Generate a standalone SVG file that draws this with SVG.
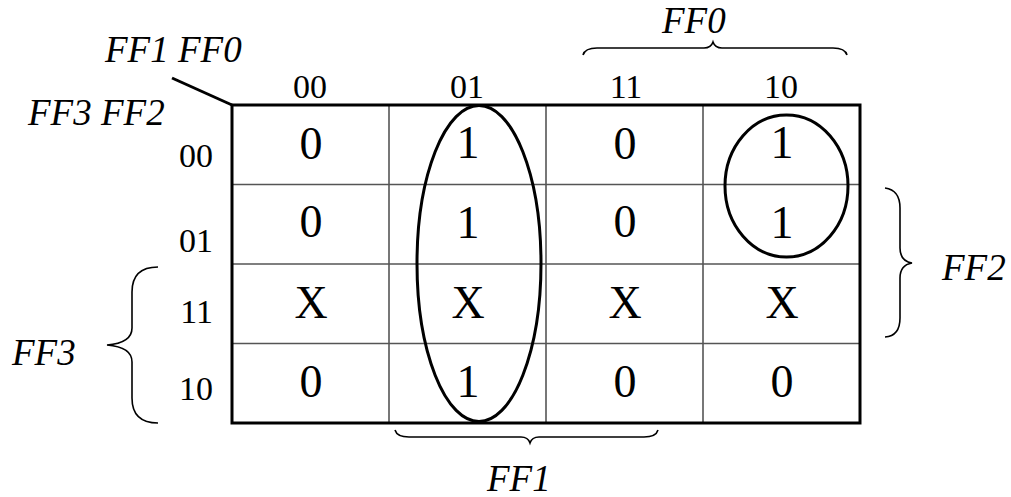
<svg xmlns="http://www.w3.org/2000/svg" width="1011" height="497" viewBox="0 0 1011 497">
<style>
text{font-family:"Liberation Serif","Times New Roman",serif;fill:#000}
.lbl{font-style:italic;font-size:37px}
.hd{font-size:34px;text-anchor:middle}
.rl{font-size:34px;text-anchor:end}
.cv{font-size:46px;text-anchor:middle}
.grid{stroke:#555;stroke-width:1.6;fill:none}
.frame{stroke:#000;stroke-width:3;fill:none}
.brace{stroke:#000;stroke-width:1.6;fill:none}
.loop{stroke:#000;stroke-width:3;fill:none}
</style>
<rect width="1011" height="497" fill="#fff"/>
<g id="grid">
<line class="grid" x1="389" y1="105" x2="389" y2="423"/>
<line class="grid" x1="546" y1="105" x2="546" y2="423"/>
<line class="grid" x1="703" y1="105" x2="703" y2="423"/>
<line class="grid" x1="232" y1="184.5" x2="860" y2="184.5"/>
<line class="grid" x1="232" y1="264" x2="860" y2="264"/>
<line class="grid" x1="232" y1="343.5" x2="860" y2="343.5"/>
<rect class="frame" x="232" y="105" width="628" height="318"/>
<line x1="172" y1="78" x2="232" y2="105" stroke="#000" stroke-width="3"/>
</g>
<g id="axis-labels">
<text class="lbl" x="105" y="62">FF1 FF0</text>
<text class="lbl" x="28" y="125">FF3 FF2</text>
</g>
<g id="col-headers">
<text class="hd" x="310" y="98">00</text>
<text class="hd" x="467" y="98">01</text>
<text class="hd" x="626" y="98">11</text>
<text class="hd" x="781" y="98">10</text>
</g>
<g id="row-headers">
<text class="rl" x="213" y="167">00</text>
<text class="rl" x="213" y="252">01</text>
<text class="rl" x="213" y="323">11</text>
<text class="rl" x="213" y="400">10</text>
</g>
<g id="cells">
<text class="cv" x="311" y="159">0</text>
<text class="cv" x="468" y="158">1</text>
<text class="cv" x="625" y="159">0</text>
<text class="cv" x="782" y="158">1</text>
<text class="cv" x="311" y="237">0</text>
<text class="cv" x="468" y="238">1</text>
<text class="cv" x="625" y="237">0</text>
<text class="cv" x="782" y="238">1</text>
<text class="cv" x="311" y="318">X</text>
<text class="cv" x="468" y="318">X</text>
<text class="cv" x="625" y="318">X</text>
<text class="cv" x="782" y="318">X</text>
<text class="cv" x="311" y="397">0</text>
<text class="cv" x="468" y="397">1</text>
<text class="cv" x="625" y="397">0</text>
<text class="cv" x="782" y="397">0</text>
</g>
<g id="groups">
<ellipse class="loop" cx="479" cy="263.5" rx="62" ry="158"/>
<ellipse class="loop" cx="786.5" cy="186" rx="61.5" ry="71"/>
</g>
<g id="braces">
<path class="brace" d="M583,55 Q585,48 597,48 L704,48 Q711,48 713,42 Q715,48 722,48 L833,48 Q845,48 847,55"/>
<path class="brace" d="M395,430 Q397,437 409,437 L521,437 Q528,437 530,443 Q532,437 539,437 L644,437 Q656,437 658,430"/>
<path class="brace" d="M885,188 Q900,190 900,208 L900,248 Q900,261 912,263 Q900,265 900,278 L900,318 Q900,336 885,337"/>
<path class="brace" d="M158,267 Q132,267 132,292 L132,328 Q132,343 107,345 Q132,347 132,362 L132,398 Q132,423 158,423"/>
<text class="lbl" x="662" y="33">FF0</text>
<text class="lbl" x="487" y="491">FF1</text>
<text class="lbl" x="942" y="280">FF2</text>
<text class="lbl" x="12" y="365">FF3</text>
</g>
</svg>
